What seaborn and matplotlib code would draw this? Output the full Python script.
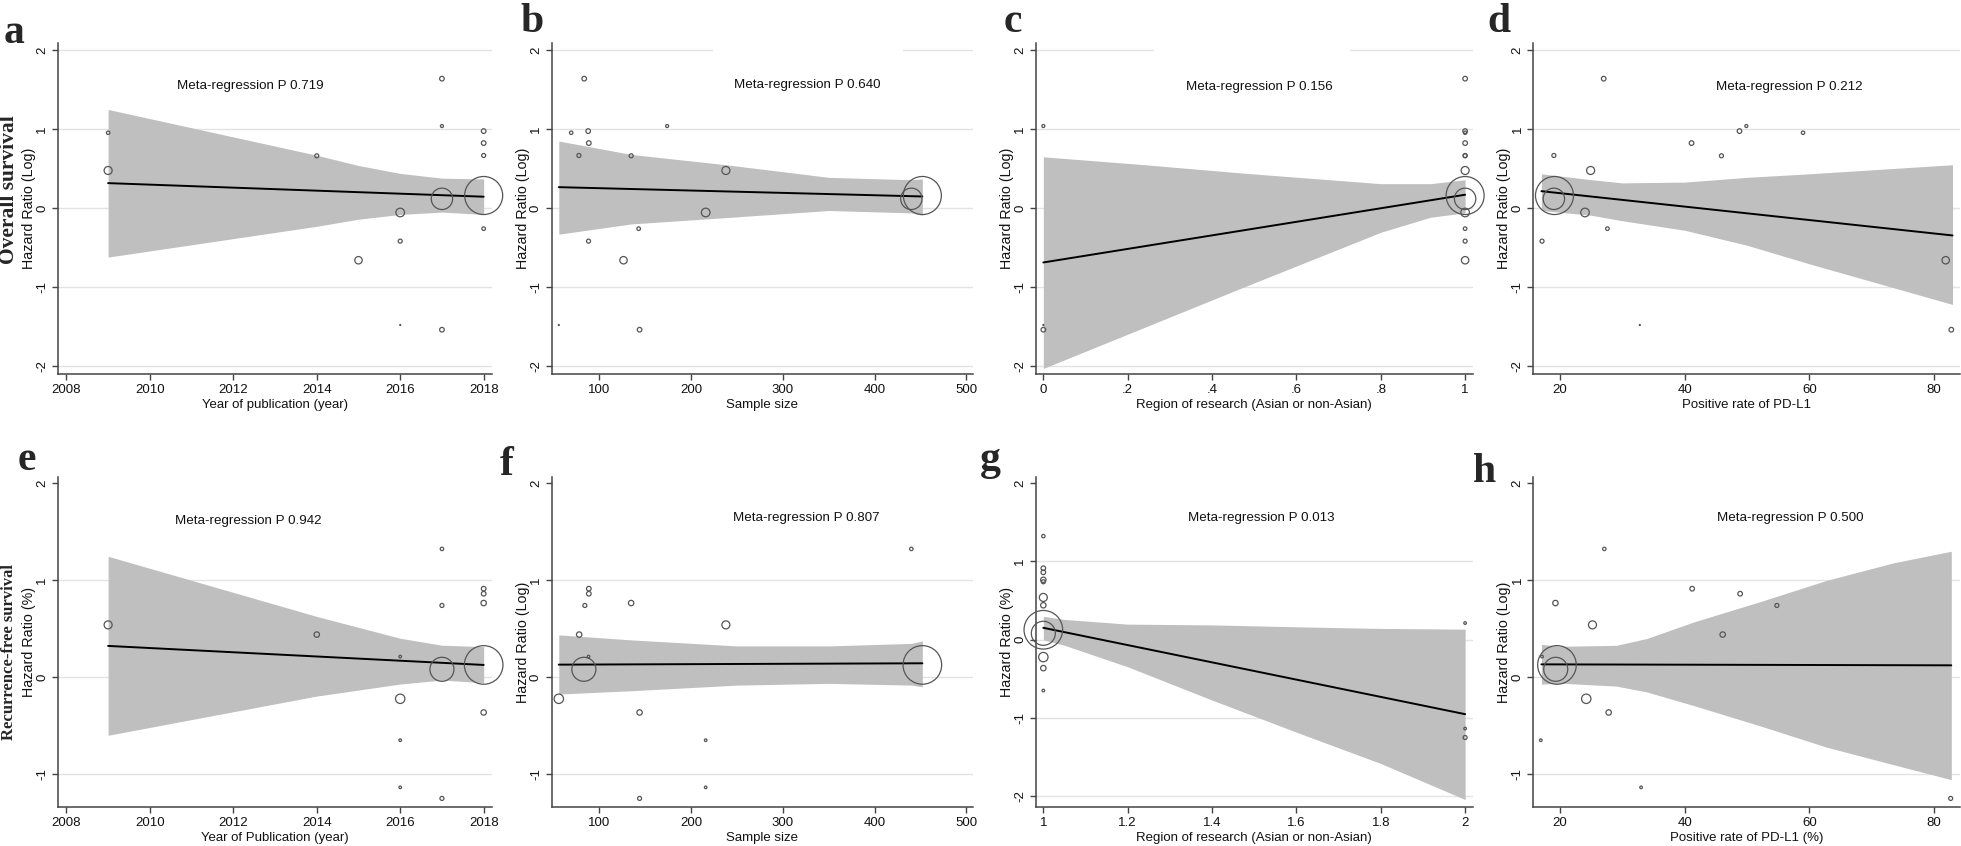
import seaborn as sns
import matplotlib.pyplot as plt

# ---- overall survival studies (top row) ----
os_year = [2009, 2009, 2014, 2015, 2016, 2016, 2016, 2017, 2017, 2017, 2017, 2018, 2018, 2018, 2018, 2018]
os_n = [69.5, 238, 134.8, 126.5, 216, 88.4, 56, 83.7, 174, 440, 144, 88, 88.7, 77.9, 452, 143]
os_region = [1, 1, 1, 1, 1, 1, 0, 1, 0, 1, 0, 1, 1, 1, 1, 1]
os_pdl1 = [59.0, 24.9, 45.9, 81.9, 24.0, 17.1, 32.8, 27.0, 49.9, 19.0, 82.8, 48.8, 41.1, 19.0, 19.1, 27.6]
os_loghr = [0.955, 0.477, 0.663, -0.66, -0.055, -0.418, -1.48, 1.64, 1.04, 0.118, -1.54, 0.976, 0.824, 0.667, 0.16, -0.26]
os_weight = [2.9, 16, 4, 13.7, 18.5, 4, 0.25, 5.3, 2.25, 114, 5.3, 5.3, 5.3, 4, 361, 3.2]

# ---- recurrence-free survival studies (bottom row) ----
rfs_year = [2009, 2014, 2016, 2016, 2016, 2016, 2017, 2017, 2017, 2017, 2018, 2018, 2018, 2018, 2018]
rfs_n = [238, 78.2, 88.4, 56, 216, 216, 440, 84.4, 83.3, 144, 88.7, 88.7, 134.8, 452, 144]
rfs_region = [1, 1, 2, 1, 1, 2, 1, 1, 1, 2, 1, 1, 1, 1, 1]
rfs_pdl1 = [25.2, 46.1, 17.1, 24.2, 16.9, 33.0, 27.1, 54.8, 19.3, 82.7, 41.2, 48.9, 19.25, 19.5, 27.8]
rfs_loghr = [0.541, 0.441, 0.214, -0.221, -0.648, -1.134, 1.324, 0.741, 0.083, -1.248, 0.914, 0.862, 0.766, 0.128, -0.362]
rfs_weight = [16, 7.3, 1.7, 22, 1.7, 1.7, 2.9, 4, 144, 4, 5.3, 5.3, 7.3, 372, 7.3]

# ---- fitted lines and 95% CI bands ----
a_x = [2009, 2014, 2015, 2016, 2017, 2018]
a_lo = [-0.62, -0.23, -0.14, -0.08, -0.05, -0.08]
a_hi = [1.25, 0.67, 0.54, 0.44, 0.38, 0.37]
a_fit = [0.317, 0.145]

b_x = [56, 135, 238, 350, 440, 452]
b_lo = [-0.33, -0.2, -0.12, -0.03, -0.06, -0.09]
b_hi = [0.85, 0.68, 0.55, 0.39, 0.36, 0.37]
b_fit = [0.266, 0.148]

c_x = [0, 0.24, 0.482, 0.8, 0.918, 1]
c_lo = [-2.03, -1.51, -0.985, -0.306, -0.115, -0.06]
c_hi = [0.65, 0.55, 0.44, 0.31, 0.31, 0.36]
c_fit = [-0.688, 0.17]

d_x = [17, 25, 30, 40, 50, 60, 83]
d_lo = [-0.03, -0.09, -0.16, -0.28, -0.47, -0.705, -1.22]
d_hi = [0.435, 0.36, 0.32, 0.33, 0.39, 0.435, 0.55]
d_fit = [0.215, -0.346]

e_x = [2009, 2014, 2016, 2017, 2018]
e_lo = [-0.597, -0.193, -0.069, -0.028, -0.055]
e_hi = [1.248, 0.628, 0.403, 0.331, 0.317]
e_fit = [0.324, 0.128]

f_x = [56, 135, 250, 350, 440, 452]
f_lo = [-0.172, -0.138, -0.08, -0.062, -0.08, -0.097]
f_hi = [0.438, 0.386, 0.324, 0.324, 0.35, 0.376]
f_fit = [0.131, 0.145]

g_x = [1, 1.05, 1.2, 1.4, 1.6, 1.8, 2]
g_lo = [0.0, -0.07, -0.345, -0.77, -1.18, -1.58, -2.04]
g_hi = [0.30, 0.26, 0.20, 0.19, 0.166, 0.145, 0.136]
g_fit = [0.153, -0.95]

h_x = [17, 20, 29, 33.9, 41.4, 52.1, 62.8, 73.5, 82.8]
h_lo = [-0.07, -0.06, -0.09, -0.15, -0.29, -0.5, -0.72, -0.9, -1.055]
h_hi = [0.34, 0.32, 0.33, 0.40, 0.57, 0.78, 1.0, 1.18, 1.30]
h_fit = [0.134, 0.124]

p_values = ["0.719", "0.640", "0.156", "0.212", "0.942", "0.807", "0.013", "0.500"]

sns.set_theme(style="white")
plt.rcParams["font.family"] = ["Liberation Sans", "DejaVu Sans"]
serif = ["Liberation Serif", "DejaVu Serif"]

W, H = 1961, 846
fig = plt.figure(figsize=(W / 100, H / 100), dpi=100)

cols = [(0.0296, 0.2213), (0.2813, 0.2148), (0.5283, 0.2227), (0.7819, 0.2176)]
rows = [(0.558, 0.391), (0.0457, 0.391)]

panels = [
    # letter, row, col, x data, y data, weight, band, xlim, ylim, xticks, xticklabels, yticks, xlabel, ylabel, text pos
    ("a", 0, 0, os_year, os_loghr, os_weight, (a_x, a_lo, a_hi, a_fit), (2007.8, 2018.2), (-2.1, 2.09),
     [2008, 2010, 2012, 2014, 2016, 2018], None, [-2, -1, 0, 1, 2],
     "Year of publication (year)", "Hazard Ratio (Log)", (0.442, 0.87)),
    ("b", 0, 1, os_n, os_loghr, os_weight, (b_x, b_lo, b_hi, b_fit), (48.2, 507), (-2.1, 2.09),
     [100, 200, 300, 400, 500], None, [-2, -1, 0, 1, 2],
     "Sample size", "Hazard Ratio (Log)", (0.606, 0.873)),
    ("c", 0, 2, os_region, os_loghr, os_weight, (c_x, c_lo, c_hi, c_fit), (-0.0174, 1.018), (-2.1, 2.09),
     [0, 0.2, 0.4, 0.6, 0.8, 1], ["0", ".2", ".4", ".6", ".8", "1"], [-2, -1, 0, 1, 2],
     "Region of research (Asian or non-Asian)", "Hazard Ratio (Log)", (0.511, 0.867)),
    ("d", 0, 3, os_pdl1, os_loghr, os_weight, (d_x, d_lo, d_hi, d_fit), (15.7, 84.2), (-2.1, 2.09),
     [20, 40, 60, 80], None, [-2, -1, 0, 1, 2],
     "Positive rate of PD-L1", "Hazard Ratio (Log)", (0.599, 0.867)),
    ("e", 1, 0, rfs_year, rfs_loghr, rfs_weight, (e_x, e_lo, e_hi, e_fit), (2007.8, 2018.2), (-1.34, 2.07),
     [2008, 2010, 2012, 2014, 2016, 2018], None, [-1, 0, 1, 2],
     "Year of Publication (year)", "Hazard Ratio (%)", (0.438, 0.867)),
    ("f", 1, 1, rfs_n, rfs_loghr, rfs_weight, (f_x, f_lo, f_hi, f_fit), (48.2, 507), (-1.34, 2.07),
     [100, 200, 300, 400, 500], None, [-1, 0, 1, 2],
     "Sample size", "Hazard Ratio (Log)", (0.604, 0.876)),
    ("g", 1, 2, rfs_region, rfs_loghr, rfs_weight, (g_x, g_lo, g_hi, g_fit), (0.9826, 2.018), (-2.14, 2.085),
     [1, 1.2, 1.4, 1.6, 1.8, 2], ["1", "1.2", "1.4", "1.6", "1.8", "2"], [-2, -1, 0, 1, 2],
     "Region of research (Asian or non-Asian)", "Hazard Ratio (%)", (0.515, 0.876)),
    ("h", 1, 3, rfs_pdl1, rfs_loghr, rfs_weight, (h_x, h_lo, h_hi, h_fit), (15.7, 84.2), (-1.34, 2.07),
     [20, 40, 60, 80], None, [-1, 0, 1, 2],
     "Positive rate of PD-L1 (%)", "Hazard Ratio (Log)", (0.601, 0.876)),
]

# letter positions in pixels (x centre, baseline)
letter_pos = {"a": (14, 43), "b": (532, 32), "c": (1013, 32), "d": (1499, 32),
              "e": (27, 470), "f": (507, 475), "g": (990, 470), "h": (1485, 482)}

# the top grid line is broken in panels b and c of the original
top_grid_gap = {"b": (0.380, 0.834), "c": (0.268, 0.719)}

wmax = 372
smax = (2 * 19.3 * 0.72) ** 2

for i, (letter, r, c, xs, ys, ws, band, xlim, ylim, xt, xtl, yt, xlab, ylab, tpos) in enumerate(panels):
    left, width = cols[c]
    bottom, height = rows[r]
    ax = fig.add_axes([left, bottom, width, height])
    w_px, h_px = width * W, height * H

    # grid lines (bottom row has no line at the top tick)
    grid_vals = yt if r == 0 else yt[:-1]
    for gv in grid_vals:
        if gv == yt[-1] and letter in top_grid_gap:
            g0, g1 = top_grid_gap[letter]
            ax.axhline(gv, xmax=g0, color="#e3e3e3", lw=1.0, zorder=0)
            ax.axhline(gv, xmin=g1, color="#e3e3e3", lw=1.0, zorder=0)
        else:
            ax.axhline(gv, color="#e3e3e3", lw=1.0, zorder=0)

    bx, blo, bhi, bfit = band
    ax.fill_between(bx, blo, bhi, color="#bfbfbf", lw=0, zorder=1)
    sns.lineplot(x=[bx[0], bx[-1]], y=bfit, color="black", lw=1.4, ax=ax, zorder=3)
    sns.scatterplot(x=xs, y=ys, size=ws, sizes=(0, smax), size_norm=(0, wmax),
                    facecolor="none", edgecolor="#555555", linewidth=0.9,
                    legend=False, ax=ax, zorder=4, clip_on=False)

    ax.set_xlim(*xlim)
    ax.set_ylim(*ylim)
    ax.set_xticks(xt)
    ax.set_xticklabels(xtl if xtl else [str(v) for v in xt], fontsize=9.5)
    ax.set_yticks(yt)
    ax.set_yticklabels([str(v) for v in yt], rotation=90, va="center", fontsize=9.5)
    ax.tick_params(axis="both", direction="out", length=4, width=1, color="#444444",
                   pad=3, labelcolor="#111111", bottom=True, left=True)

    ax.set_xlabel(xlab, fontsize=9.5, color="#111111", va="center")
    ax.xaxis.set_label_coords(0.5, -31 / h_px)
    ax.set_ylabel(ylab, fontsize=10.3, color="#111111", va="center")
    ax.yaxis.set_label_coords(-29 / w_px, 0.5)

    for side in ["top", "right"]:
        ax.spines[side].set_visible(False)
    for side in ["left", "bottom"]:
        ax.spines[side].set_color("#444444")
        ax.spines[side].set_linewidth(1.1)

    ax.text(tpos[0], tpos[1], "Meta-regression P " + p_values[i], transform=ax.transAxes,
            ha="center", va="center", fontsize=9.6, color="#111111")

    lx, ly = letter_pos[letter]
    fig.text(lx / W, 1 - ly / H, letter, ha="center", va="baseline",
             fontsize=30, fontweight="bold", family=serif)

fig.text(9 / W, 1 - 190 / H, "Overall survival", rotation=90, ha="center", va="center",
         fontsize=15.5, fontweight="bold", family=serif)
fig.text(9 / W, 1 - 652 / H, "Recurrence-free survival", rotation=90, ha="center", va="center",
         fontsize=12, fontweight="bold", family=serif)

fig.savefig("out.png", dpi=100, facecolor="white")
